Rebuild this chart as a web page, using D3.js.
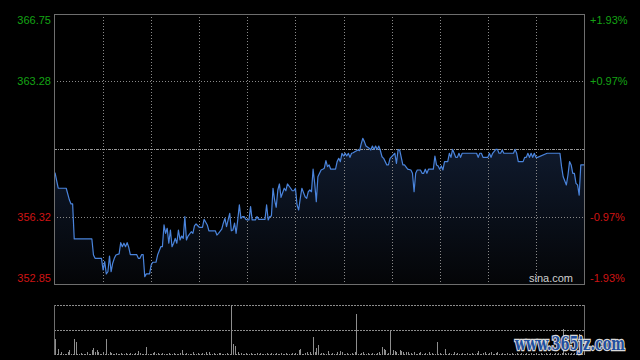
<!DOCTYPE html>
<html>
<head>
<meta charset="utf-8">
<script src="https://cdn.jsdelivr.net/npm/d3@7"></script>
<style>
  html, body { margin: 0; padding: 0; background: #000; overflow: hidden; }
  svg { display: block; }
</style>
</head>
<body>
<div id="chart-area"></div>
<script>
const W = 640;
const H = 360;
const LINE_COLOR = '#4a84dc';
const GRID_COLOR = '#8a8a8a';
const BORDER_COLOR = '#6e6e6e';
const UP_COLOR = '#14a314';
const DOWN_COLOR = '#cf1414';

// minutes since open (0..330) and last price at that minute
const minutes = [
    0, 2, 7, 9, 10, 11, 12, 23, 24, 25, 29, 30, 31, 32, 33, 34, 35, 36, 37, 38,
    40, 41, 42, 43, 44, 45, 46, 47, 51, 52, 53, 54, 55, 56, 57, 59, 60, 61, 63, 64,
    66, 67, 68, 69, 70, 71, 72, 73, 74, 75, 76, 77, 78, 79, 80, 81, 82, 83, 85, 86,
    87, 88, 90, 92, 93, 95, 96, 100, 101, 102, 104, 105, 106, 107, 108, 109, 110, 111, 112, 113,
    114, 115, 116, 117, 118, 119, 120, 121, 122, 123, 125, 126, 127, 131, 132, 133, 134, 135, 136, 137,
    138, 139, 140, 141, 143, 144, 145, 147, 148, 149, 150, 151, 152, 153, 154, 156, 157, 158, 159, 160,
    161, 162, 163, 164, 166, 167, 168, 169, 170, 171, 172, 175, 176, 177, 178, 179, 180, 181, 182, 183,
    184, 185, 186, 187, 189, 190, 191, 192, 193, 194, 196, 197, 198, 199, 200, 201, 202, 203, 204, 205,
    206, 207, 208, 209, 212, 213, 214, 215, 217, 218, 220, 222, 223, 224, 225, 226, 228, 229, 230, 231,
    232, 233, 236, 237, 238, 239, 240, 241, 242, 243, 245, 246, 247, 248, 249, 250, 251, 252, 253, 254,
    263, 264, 265, 266, 267, 270, 271, 272, 273, 275, 276, 277, 278, 279, 280, 286, 287, 288, 289, 292,
    293, 294, 295, 296, 297, 298, 299, 300, 301, 307, 315, 316, 317, 319, 320, 321, 322, 323, 324, 325,
    326, 327, 328, 330
];
const prices = [
    358.58, 357.78, 357.78, 357.17, 356.97, 356.97, 355.17, 355.17, 354.34, 354.17, 354.17, 353.57, 354.00, 353.37, 353.48, 354.29, 353.48, 353.92, 354.17, 354.34,
    354.40, 354.98, 354.77, 354.95, 354.77, 354.98, 354.74, 354.36, 354.36, 354.17, 354.17, 354.36, 354.36, 353.23, 353.37, 353.37, 353.83, 353.97, 353.97, 354.34,
    354.77, 354.77, 355.89, 355.46, 355.72, 354.95, 355.63, 354.77, 354.95, 355.20, 354.95, 355.63, 355.12, 355.32, 355.20, 356.32, 355.12, 355.32, 355.54, 355.46,
    355.84, 355.94, 355.77, 355.77, 356.18, 355.89, 355.59, 355.59, 355.37, 355.46, 355.67, 355.98, 356.23, 355.80, 356.15, 356.49, 355.59, 355.63, 355.98, 355.46,
    356.15, 356.92, 356.23, 356.32, 356.32, 356.18, 356.15, 356.15, 356.83, 356.15, 356.15, 356.32, 356.18, 356.18, 356.92, 356.15, 356.32, 356.35, 357.78, 357.17,
    356.80, 357.69, 358.00, 357.31, 357.78, 357.65, 358.00, 357.78, 357.65, 357.65, 357.78, 356.92, 356.66, 357.26, 357.78, 357.34, 357.26, 357.60, 357.69, 357.60,
    358.76, 358.03, 357.09, 358.37, 358.72, 358.76, 358.81, 359.20, 358.89, 358.98, 358.76, 358.76, 359.15, 359.32, 359.15, 359.58, 359.44, 359.58, 359.44, 359.58,
    359.37, 359.58, 359.61, 359.66, 359.75, 359.71, 360.06, 360.35, 360.18, 359.95, 359.84, 359.75, 359.95, 359.78, 359.95, 359.78, 359.95, 359.71, 359.40, 359.32,
    359.15, 358.98, 358.98, 359.32, 359.58, 359.06, 359.75, 359.75, 358.98, 358.98, 358.76, 358.72, 358.55, 357.60, 358.55, 358.72, 358.72, 358.55, 358.55, 358.76,
    358.55, 358.76, 358.76, 359.44, 358.98, 358.93, 358.76, 358.93, 358.72, 359.15, 359.15, 359.58, 359.37, 359.78, 359.58, 359.37, 359.37, 359.58, 359.37, 359.58,
    359.58, 359.37, 359.58, 359.58, 359.37, 359.37, 359.58, 359.37, 359.58, 359.78, 359.78, 359.58, 359.58, 359.75, 359.58, 359.58, 359.78, 359.58, 359.15, 359.15,
    359.37, 359.37, 359.58, 359.37, 359.58, 359.37, 359.58, 359.37, 359.37, 359.58, 359.58, 358.89, 358.37, 357.95, 358.46, 359.15, 358.98, 358.55, 358.55, 358.03,
    357.95, 357.43, 358.98, 358.98
];

// one volume bar per minute, 0..330
const volumes = [
    16, 1, 6, 1, 3, 1, 1, 1, 3, 5, 1, 1, 16, 13, 1, 1, 2, 1, 1, 1,
    3, 1, 1, 5, 7, 3, 5, 3, 1, 1, 3, 1, 16, 1, 3, 2, 1, 1, 2, 1,
    1, 2, 1, 1, 2, 1, 1, 2, 1, 1, 2, 1, 4, 2, 1, 1, 1, 8, 1, 1,
    1, 2, 3, 1, 2, 1, 1, 2, 1, 1, 1, 2, 1, 1, 2, 1, 1, 1, 2, 5,
    1, 1, 2, 1, 1, 1, 3, 1, 1, 2, 1, 1, 2, 1, 3, 1, 3, 1, 1, 2,
    1, 1, 2, 2, 1, 1, 1, 2, 1, 1, 50, 11, 9, 1, 3, 1, 2, 1, 1, 2,
    1, 1, 2, 1, 1, 1, 2, 1, 2, 1, 1, 1, 2, 1, 1, 2, 1, 1, 2, 1,
    1, 2, 1, 1, 2, 1, 1, 1, 2, 1, 2, 1, 5, 6, 1, 1, 2, 3, 1, 3,
    1, 18, 3, 7, 10, 1, 2, 2, 1, 1, 4, 1, 1, 2, 1, 1, 3, 1, 4, 3,
    1, 1, 2, 1, 1, 2, 1, 3, 41, 1, 1, 2, 3, 1, 1, 2, 1, 1, 2, 1,
    1, 2, 3, 1, 8, 6, 5, 1, 2, 24, 1, 5, 4, 3, 1, 5, 4, 3, 1, 3,
    3, 1, 2, 1, 3, 1, 1, 2, 3, 1, 1, 2, 1, 3, 1, 2, 1, 1, 13, 1,
    2, 1, 1, 6, 1, 1, 2, 1, 1, 3, 1, 2, 1, 1, 2, 1, 1, 2, 1, 1,
    2, 1, 1, 2, 4, 1, 1, 2, 3, 1, 1, 2, 3, 1, 1, 2, 3, 1, 1, 2,
    1, 1, 2, 1, 1, 2, 1, 1, 2, 1, 1, 2, 1, 1, 2, 1, 1, 2, 1, 1,
    2, 1, 1, 2, 1, 1, 2, 1, 1, 2, 1, 1, 2, 1, 2, 1, 2, 26, 2, 1,
    2, 1, 2, 1, 2, 1, 2, 21, 2, 1, 3
];

const PREV_CLOSE = 359.80;
const priceTicks = [366.75, 363.28, 356.32, 352.85];
const pctTicks = ["+1.93%", "+0.97%", "-0.97%", "-1.93%"];
const gridMinutes = [30, 60, 90, 120, 150, 180, 210, 240, 270, 300];
const VOL_MAX = 50;

function render() {
    const svg = d3.select("#chart-area").append("svg")
        .attr("width", W)
        .attr("height", H)
        .style("font-family", "'Liberation Sans', Arial, sans-serif");

    svg.append("rect").attr("width", W).attr("height", H).attr("fill", "#000");

    const main = { left: 54, right: 584, top: 14, bottom: 284 };
    const vol = { top: 305, bottom: 355 };

    const x = d3.scaleLinear().domain([0, 330]).range([main.left + 1, main.right]);
    const y = d3.scaleLinear().domain([352.85, 366.75]).range([main.bottom, main.top]);
    const vy = d3.scaleLinear().domain([0, VOL_MAX]).range([vol.bottom, vol.top]);

    const data = minutes.map((m, i) => ({ m: m, p: prices[i] }));

    // fill under the price line
    const grad = svg.append("defs").append("linearGradient")
        .attr("id", "fillGrad")
        .attr("gradientUnits", "userSpaceOnUse")
        .attr("x1", 0).attr("y1", y(360.35))
        .attr("x2", 0).attr("y2", main.bottom);
    grad.append("stop").attr("offset", "0%").attr("stop-color", "#101b2f");
    grad.append("stop").attr("offset", "100%").attr("stop-color", "#040507");

    svg.append("path")
        .datum(data)
        .attr("fill", "url(#fillGrad)")
        .attr("d", d3.area()
            .x(d => x(d.m))
            .y0(main.bottom)
            .y1(d => y(d.p)));

    // grid
    const px = v => Math.round(v) + 0.5;
    svg.selectAll(".vgrid")
        .data(gridMinutes)
        .enter()
        .append("line")
        .attr("x1", d => px(x(d))).attr("x2", d => px(x(d)))
        .attr("y1", main.top).attr("y2", main.bottom)
        .attr("stroke", GRID_COLOR)
        .attr("stroke-dasharray", "1,2");

    svg.selectAll(".hgrid")
        .data([363.28, 356.32])
        .enter()
        .append("line")
        .attr("x1", main.left).attr("x2", main.right)
        .attr("y1", d => px(y(d))).attr("y2", d => px(y(d)))
        .attr("stroke", GRID_COLOR)
        .attr("stroke-dasharray", "1,2");

    svg.append("line")
        .attr("x1", main.left).attr("x2", main.right)
        .attr("y1", px(y(PREV_CLOSE))).attr("y2", px(y(PREV_CLOSE)))
        .attr("stroke", "#9a9a9a")
        .attr("stroke-dasharray", "3,1,1,1");

    // price line
    svg.append("path")
        .datum(data)
        .attr("fill", "none")
        .attr("stroke", LINE_COLOR)
        .attr("stroke-width", 1.2)
        .attr("stroke-linejoin", "round")
        .attr("d", d3.line()
            .x(d => x(d.m))
            .y(d => y(d.p)));

    svg.append("rect")
        .attr("x", main.left + 0.5).attr("y", main.top + 0.5)
        .attr("width", main.right - main.left).attr("height", main.bottom - main.top)
        .attr("fill", "none")
        .attr("stroke", BORDER_COLOR);

    // axis labels
    const labelY = v => Math.min(Math.max(y(v) + 4, main.top + 10), main.bottom - 2);
    svg.selectAll(".lbl-left")
        .data(priceTicks)
        .enter()
        .append("text")
        .attr("x", 51)
        .attr("y", d => labelY(d))
        .attr("text-anchor", "end")
        .attr("font-size", 11)
        .attr("fill", d => d > PREV_CLOSE ? UP_COLOR : DOWN_COLOR)
        .text(d => d.toFixed(2));

    svg.selectAll(".lbl-right")
        .data(priceTicks)
        .enter()
        .append("text")
        .attr("x", 590)
        .attr("y", d => labelY(d))
        .attr("font-size", 11)
        .attr("fill", d => d > PREV_CLOSE ? UP_COLOR : DOWN_COLOR)
        .text((d, i) => pctTicks[i]);

    svg.append("text")
        .attr("x", 573)
        .attr("y", main.bottom - 2)
        .attr("text-anchor", "end")
        .attr("font-size", 11)
        .attr("fill", "#cfcfcf")
        .text("sina.com");

    // volume panel
    [vol.top, (vol.top + vol.bottom) / 2].forEach(v => {
        svg.append("line")
            .attr("x1", main.left).attr("x2", main.right)
            .attr("y1", px(v)).attr("y2", px(v))
            .attr("stroke", "#8c8c8c")
            .attr("stroke-dasharray", "2,1");
    });
    [main.left, main.right].forEach(v => {
        svg.append("line")
            .attr("x1", v + 0.5).attr("x2", v + 0.5)
            .attr("y1", vol.top).attr("y2", vol.bottom)
            .attr("stroke", BORDER_COLOR);
    });

    svg.selectAll(".vol")
        .data(volumes)
        .enter()
        .append("rect")
        .attr("x", (d, i) => Math.round(x(i)))
        .attr("width", 1)
        .attr("y", d => vy(d))
        .attr("height", d => vol.bottom - vy(d))
        .attr("fill", "#8e8e8e");

    // watermark
    svg.append("text")
        .attr("x", 515)
        .attr("y", 350)
        .attr("font-family", "'DejaVu Serif', serif")
        .attr("font-weight", "bold")
        .attr("font-size", 18)
        .attr("textLength", 110)
        .attr("lengthAdjust", "spacingAndGlyphs")
        .attr("fill", "#1f4f9e")
        .attr("stroke", "#d8d8d8")
        .attr("stroke-width", 2.5)
        .attr("paint-order", "stroke")
        .text("www.365jz.com");
}

render();
</script>
</body>
</html>
